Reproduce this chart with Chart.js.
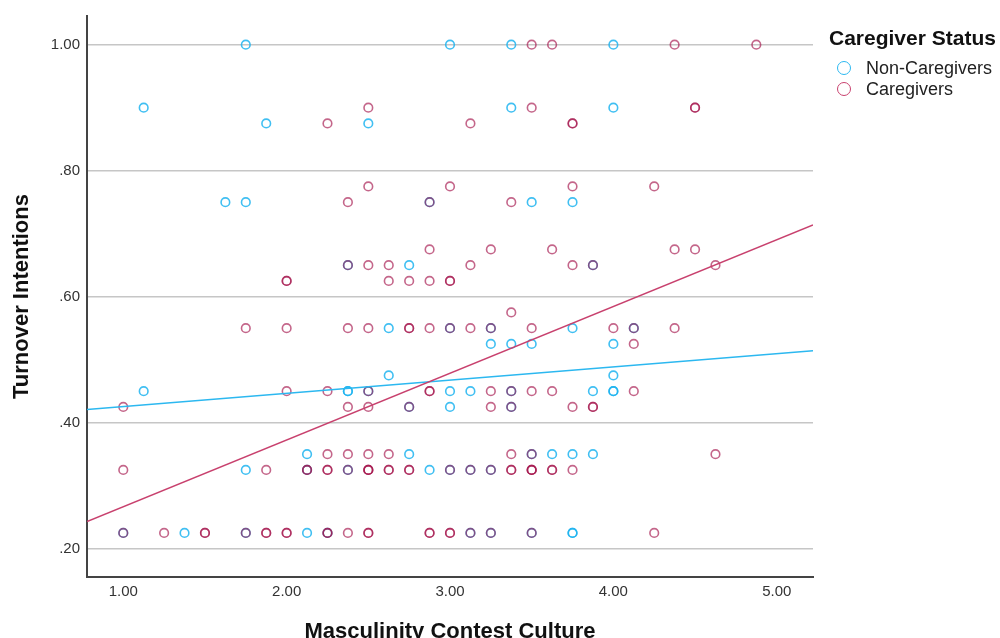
<!DOCTYPE html>
<html>
<head>
<meta charset="utf-8">
<title>Turnover Intentions by Masculinity Contest Culture</title>
<script src="https://cdn.jsdelivr.net/npm/chart.js"></script>
<style>
  body { margin: 0; background: #fff; }
  #wrap { position: relative; width: 1000px; height: 638px; }
  #legend { position: absolute; left: 0; top: 0; font-family: "Liberation Sans", Arial, sans-serif; color: #111; }
  .lg-title { position: absolute; left: 829px; top: 26px; font-size: 21px; line-height: 24px; font-weight: bold; white-space: nowrap; }
  .lg-dot { position: absolute; left: 837px; width: 14px; height: 14px; box-sizing: border-box; border-radius: 50%; border: 1.6px solid; }
  .lg-text { position: absolute; left: 866px; font-size: 18px; line-height: 22px; white-space: nowrap; color: #222; }
</style>
</head>
<body>
<div id="wrap">
  <canvas id="chart"></canvas>
  <div id="legend">
    <div class="lg-title">Caregiver Status</div>
    <span class="lg-dot" style="top:61px; border-color:#2cb8f0"></span>
    <div class="lg-text" style="top:57px">Non-Caregivers</div>
    <span class="lg-dot" style="top:82px; border-color:#c8416e"></span>
    <div class="lg-text" style="top:78px">Caregivers</div>
  </div>
</div>
<script>
// turnover intention levels (one row of points per level)
const yLevels = [1.00, 0.90, 0.875, 0.775, 0.75, 0.675, 0.65, 0.625, 0.575, 0.55, 0.525, 0.475, 0.45, 0.425, 0.35, 0.325, 0.225];

// masculinity contest culture scores per row, repeats = overlapping cases
const nonCaregiverX = [
  [1.75, 3.0, 3.375, 4.0],
  [1.125, 3.375, 4.0],
  [1.875, 2.5],
  [],
  [1.625, 1.75, 2.875, 3.5, 3.75],
  [],
  [2.375, 2.75, 3.875],
  [],
  [],
  [2.625, 3.0, 3.25, 3.75, 4.125],
  [3.25, 3.375, 3.5, 4.0],
  [2.625, 4.0],
  [1.125, 2.375, 2.375, 2.5, 3.0, 3.125, 3.375, 3.875, 4.0, 4.0],
  [2.75, 3.0, 3.375],
  [2.125, 2.75, 3.5, 3.625, 3.75, 3.875],
  [1.75, 2.125, 2.375, 2.875, 3.0, 3.125, 3.25],
  [1.0, 1.375, 1.75, 2.125, 2.25, 3.125, 3.25, 3.5, 3.75, 3.75]
];

const caregiverX = [
  [3.5, 3.625, 4.375, 4.875],
  [2.5, 3.5, 4.5, 4.5],
  [2.25, 3.125, 3.75, 3.75],
  [2.5, 3.0, 3.75, 4.25],
  [2.375, 2.875, 3.375],
  [2.875, 3.25, 3.625, 4.375, 4.5],
  [2.375, 2.5, 2.625, 3.125, 3.75, 3.875, 4.625],
  [2.0, 2.0, 2.625, 2.75, 2.875, 3.0, 3.0],
  [3.375],
  [1.75, 2.0, 2.375, 2.5, 2.75, 2.75, 2.875, 3.0, 3.125, 3.25, 3.5, 4.0, 4.125, 4.375],
  [4.125],
  [],
  [2.0, 2.25, 2.5, 2.875, 2.875, 3.25, 3.375, 3.5, 3.625, 4.125],
  [1.0, 2.375, 2.5, 2.75, 3.25, 3.375, 3.75, 3.875, 3.875],
  [2.25, 2.375, 2.5, 2.625, 3.375, 3.5, 4.625],
  [1.0, 1.875, 2.125, 2.125, 2.25, 2.25, 2.375, 2.5, 2.5, 2.5, 2.625, 2.625, 2.75, 2.75, 3.0, 3.125, 3.25, 3.375, 3.375, 3.5, 3.5, 3.5, 3.625, 3.625, 3.75],
  [1.0, 1.25, 1.5, 1.5, 1.75, 1.875, 1.875, 2.0, 2.0, 2.25, 2.25, 2.375, 2.5, 2.5, 2.875, 2.875, 3.0, 3.0, 3.125, 3.25, 3.5, 4.25]
];

// fit lines: value at each end of the x range
const fitRange = [0.778, 5.222];
const nonCaregiverFit = [0.421, 0.514];
const caregiverFit = [0.243, 0.714];

const xTicks = [1, 2, 3, 4, 5];
const yTicks = [0.2, 0.4, 0.6, 0.8, 1.0];

const blue = '#2cb8f0';
const red = '#c8416e';

function toPoints(rows) {
  const pts = [];
  rows.forEach((xs, i) => xs.forEach(x => pts.push({ x: x, y: yLevels[i] })));
  return pts;
}

function fitLine(ends) {
  return fitRange.map((x, i) => ({ x: x, y: ends[i] }));
}

const tickFont = { family: '"Liberation Sans", Arial, sans-serif', size: 15 };
const titleFont = { family: '"Liberation Sans", Arial, sans-serif', size: 22, weight: 'bold' };

new Chart(document.getElementById('chart'), {
  type: 'scatter',
  data: {
    datasets: [
      {
        label: 'Non-Caregivers',
        data: toPoints(nonCaregiverX),
        order: 3,
        pointStyle: 'circle',
        pointRadius: 4.3,
        borderWidth: 1.6,
        borderColor: 'rgba(30, 180, 240, 0.85)',
        backgroundColor: 'rgba(0,0,0,0)'
      },
      {
        label: 'Caregivers',
        data: toPoints(caregiverX),
        order: 2,
        pointStyle: 'circle',
        pointRadius: 4.3,
        borderWidth: 1.6,
        borderColor: 'rgba(165, 20, 75, 0.65)',
        backgroundColor: 'rgba(0,0,0,0)'
      },
      {
        label: 'Non-Caregivers fit',
        data: fitLine(nonCaregiverFit),
        order: 1,
        showLine: true,
        pointRadius: 0,
        borderWidth: 1.5,
        borderColor: blue
      },
      {
        label: 'Caregivers fit',
        data: fitLine(caregiverFit),
        order: 0,
        showLine: true,
        pointRadius: 0,
        borderWidth: 1.5,
        borderColor: red
      }
    ]
  },
  options: {
    responsive: true,
    maintainAspectRatio: false,
    animation: false,
    layout: { padding: { top: 15, right: 187, bottom: 0, left: 0 } },
    plugins: {
      legend: { display: false },
      tooltip: { enabled: false }
    },
    scales: {
      x: {
        type: 'linear',
        min: 0.778,
        max: 5.222,
        afterFit: (scale) => { scale.height = 61; },
        afterBuildTicks: (scale) => { scale.ticks = xTicks.map(v => ({ value: v })); },
        grid: { display: false, drawTicks: false },
        border: { display: true, color: '#444', width: 2 },
        ticks: {
          padding: 6,
          color: '#333',
          font: tickFont,
          callback: (v) => Number(v).toFixed(2)
        },
        title: {
          display: true,
          text: 'Masculinity Contest Culture',
          color: '#111',
          font: titleFont,
          padding: { top: 0, bottom: -7 }
        }
      },
      y: {
        min: 0.155,
        max: 1.0455,
        afterFit: (scale) => { scale.width = 87; },
        afterBuildTicks: (scale) => { scale.ticks = yTicks.map(v => ({ value: v })); },
        grid: { color: '#c6c6c6', lineWidth: 1.5, drawTicks: false },
        border: { display: true, color: '#444', width: 2 },
        ticks: {
          padding: 7,
          color: '#333',
          font: tickFont,
          callback: (v) => Number(v).toFixed(2).replace(/^0/, '')
        },
        title: {
          display: true,
          text: 'Turnover Intentions',
          color: '#111',
          font: titleFont,
          padding: { top: 9, bottom: 0 }
        }
      }
    }
  }
});
</script>
</body>
</html>
